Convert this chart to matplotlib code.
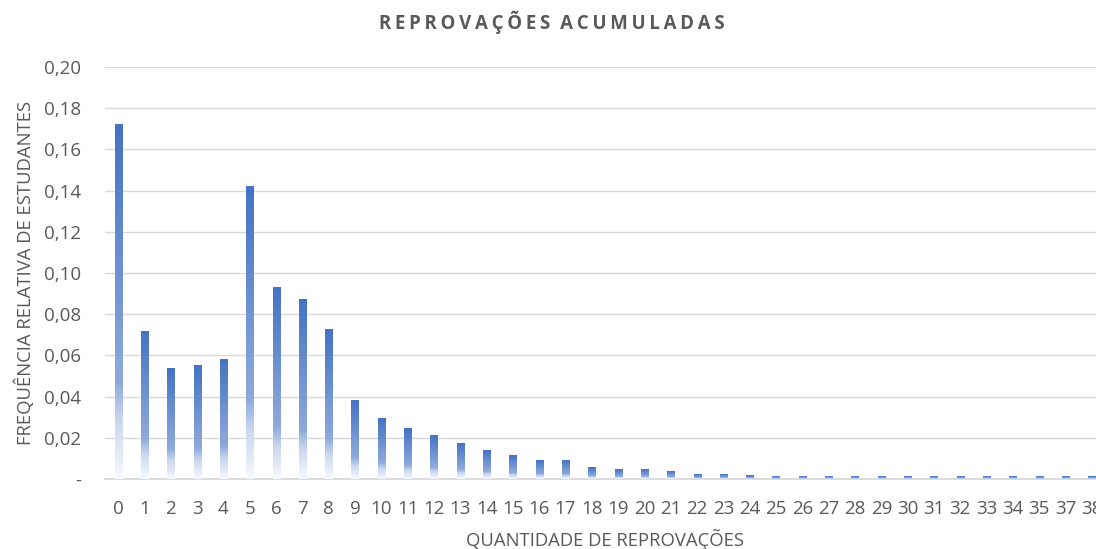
import numpy as np
import matplotlib
matplotlib.use("Agg")
import matplotlib.pyplot as plt
from matplotlib.colors import LinearSegmentedColormap

# Reprovações acumuladas (note: no category 36)
categories = [str(i) for i in range(36)] + ["37", "38"]
freq = [0.172, 0.0715, 0.0535, 0.055, 0.058, 0.142, 0.093, 0.087, 0.0725, 0.038,
        0.0295, 0.0243, 0.0209, 0.0173, 0.0136, 0.0115, 0.0088, 0.0088, 0.0054, 0.0044,
        0.0044, 0.0034, 0.0024, 0.0024, 0.0015, 0.0013, 0.0013, 0.0013, 0.0013, 0.0013,
        0.0013, 0.0013, 0.0013, 0.0013, 0.0013, 0.0013, 0.0013, 0.0013]
yticks = [0, 0.02, 0.04, 0.06, 0.08, 0.10, 0.12, 0.14, 0.16, 0.18, 0.20]
ytick_labels = ["-"] + [f"{v:.2f}".replace(".", ",") for v in yticks[1:]]

title = "REPROVAÇÕES ACUMULADAS"
xlabel = "QUANTIDADE DE REPROVAÇÕES"
ylabel = "FREQUÊNCIA RELATIVA DE ESTUDANTES"

grey = "#595959"
plt.rcParams["font.family"] = ["Open Sans", "DejaVu Sans"]

# vertical gradient: white at the bottom -> blue at the top
grad = LinearSegmentedColormap.from_list(
    "bar_grad",
    [(0.0, "#f7f9fd"), (0.17, "#c8d6ee"), (0.27, "#8eaadc"), (1.0, "#4472c4")])
grad_img = np.linspace(0, 1, 256).reshape(-1, 1)

fig = plt.figure(figsize=(10.96, 5.49), dpi=100)
# the plot area runs a little past the right edge, as in the original (38 is cut)
ax = fig.add_axes([105 / 1096, 1 - 479 / 549, (1105 - 105) / 1096, (479 - 67) / 549])

x = np.arange(len(categories))
width = 0.27
bars = ax.bar(x, freq, width=width, color="none", zorder=3)
for b in bars:
    x0, y0 = b.get_x(), b.get_y()
    ax.imshow(grad_img, cmap=grad, origin="lower", aspect="auto",
              extent=(x0, x0 + b.get_width(), y0, y0 + b.get_height()), zorder=3)

ax.set_xlim(-0.5, len(categories) - 0.5)
ax.set_ylim(0, 0.20)
ax.set_xticks(x)
ax.set_xticklabels(categories)
ax.set_yticks(yticks)
ax.set_yticklabels(ytick_labels)

ax.grid(axis="y", color="#d9d9d9", lw=1.0, zorder=0)
ax.set_axisbelow(True)
for s in ["top", "right", "left"]:
    ax.spines[s].set_visible(False)
ax.spines["bottom"].set_color("#d9d9d9")
ax.spines["bottom"].set_linewidth(1.3)
ax.tick_params(axis="both", length=0, colors=grey, labelsize=13.5)
ax.tick_params(axis="x", pad=15)
ax.tick_params(axis="y", pad=17)

ax.set_xlabel(xlabel, color=grey, fontsize=13.3, labelpad=8)
ax.set_ylabel(ylabel, color=grey, fontsize=13.3, labelpad=7)

# letter-spaced title
spaced_title = "\u2009".join(title).replace("\u2009 \u2009", "  ")
fig.text(552 / 1096, 1 - 22 / 549, spaced_title, ha="center", va="center",
         color=grey, fontsize=13.4, fontweight="bold")

fig.savefig("out.png", dpi=100)
